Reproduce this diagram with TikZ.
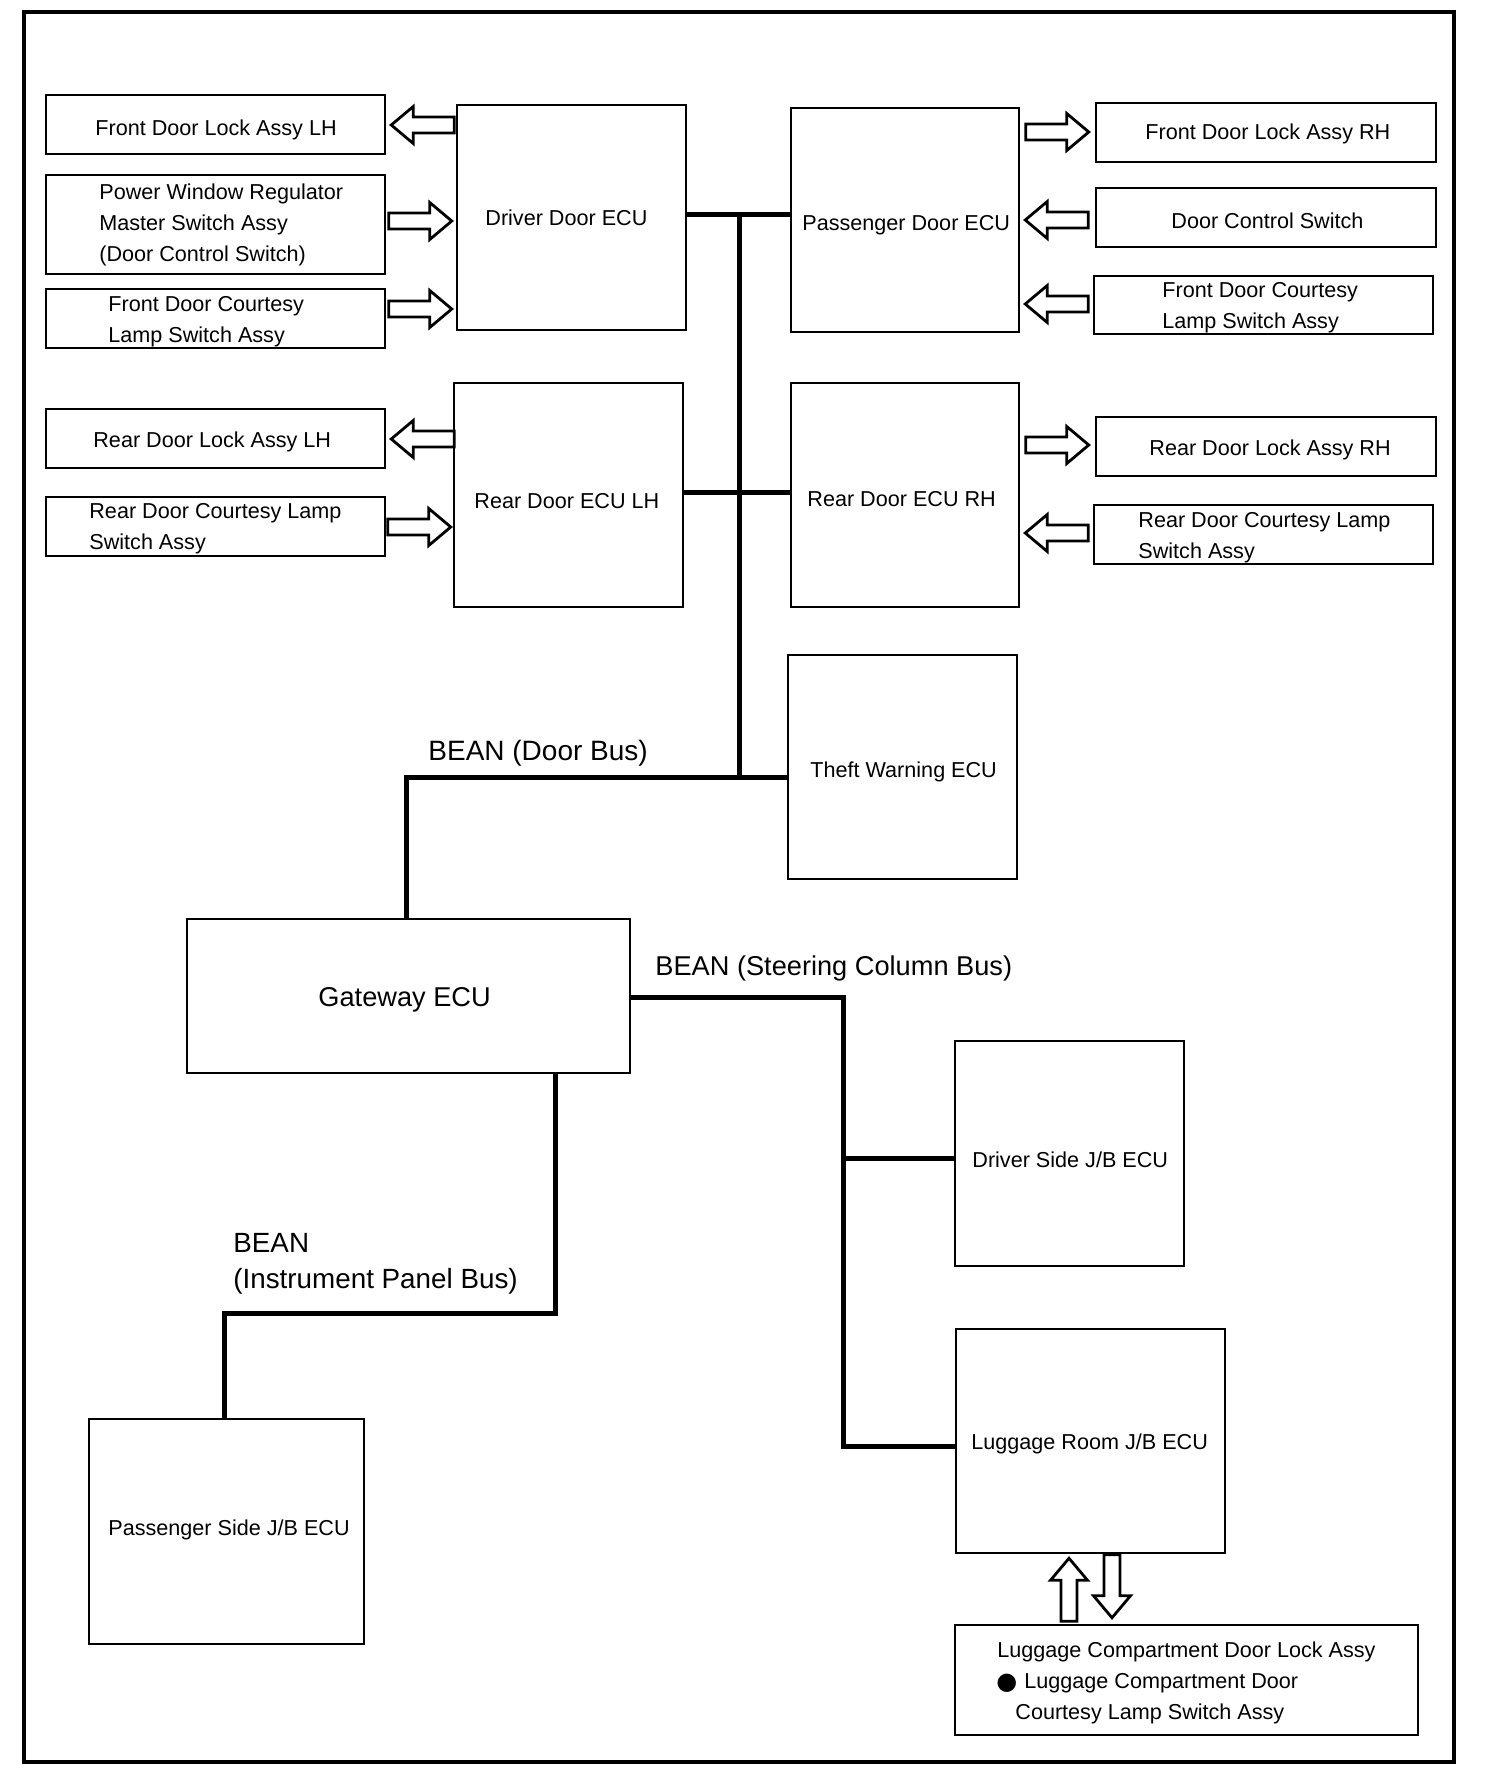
\documentclass[tikz,border=0pt]{standalone}
\usepackage{fontspec}
\setmainfont{Liberation Sans}
\newfontfamily\dejavu{DejaVu Sans}
\usetikzlibrary{fit,calc}
\begin{document}
\begin{tikzpicture}[x=0.5pt,y=-0.5pt,
  box/.style={draw, line width=1.25pt, inner sep=0pt},
  bus/.style={line width=2.5pt, line join=miter},
  txt/.style={inner sep=0pt, anchor=base west, font=\fontsize{10.8}{13}\selectfont},
  midtxt/.style={inner sep=0pt, anchor=base west, font=\fontsize{14}{16}\selectfont},
  bigtxt/.style={inner sep=0pt, anchor=base west, font=\fontsize{13.6}{16}\selectfont},
  barrow/.pic={\draw[line width=1.4pt, line join=miter, fill=white] (0,0) -- (-22,-18.5) -- (-22,-8) -- (-63,-8) -- (-63,8) -- (-22,8) -- (-22,18.5) -- cycle;}
]
\useasboundingbox (0,0) rectangle (1504,1782);
\node[draw, line width=1.7pt, inner sep=0pt, fit={(24,12) (1454,1762)}] (frame) {};

% boxes
\node[box, fit={(46,95) (385,154)}] (fdlL) {};
\node[box, fit={(46,175) (385,274)}] (pwL) {};
\node[box, fit={(46,289) (385,348)}] (fdcL) {};
\node[box, fit={(457,105) (686,330)}] (ddecu) {};
\node[box, fit={(791,108) (1019,332)}] (pdecu) {};
\node[box, fit={(1096,103) (1436,162)}] (fdlR) {};
\node[box, fit={(1096,188) (1436,247)}] (dcs) {};
\node[box, fit={(1094,276) (1433,334)}] (fdcR) {};
\node[box, fit={(46,409) (385,468)}] (rdlL) {};
\node[box, fit={(46,497) (385,556)}] (rdcL) {};
\node[box, fit={(454,383) (683,607)}] (rdecuL) {};
\node[box, fit={(791,383) (1019,607)}] (rdecuR) {};
\node[box, fit={(1096,417) (1436,476)}] (rdlR) {};
\node[box, fit={(1094,505) (1433,564)}] (rdcR) {};
\node[box, fit={(788,655) (1017,879)}] (theft) {};
\node[box, fit={(187,919) (630,1073)}] (gw) {};
\node[box, fit={(955,1041) (1184,1266)}] (dsjb) {};
\node[box, fit={(89,1419) (364,1644)}] (psjb) {};
\node[box, fit={(956,1329) (1225,1553)}] (lrjb) {};
\node[box, fit={(955,1625) (1418,1735)}] (lcd) {};

% texts
\node[txt] (t1) at (95,135) {Front Door Lock Assy LH};
\node[txt] (t2a) at (99,199) {Power Window Regulator};
\node[txt] (t2b) at (99,230) {Master Switch Assy};
\node[txt] (t2c) at (99,261) {(Door Control Switch)};
\node[txt] (t3a) at (108,311) {Front Door Courtesy};
\node[txt] (t3b) at (108,342) {Lamp Switch Assy};
\node[txt] (t4) at (485,225) {Driver Door ECU};
\node[txt] (t5) at (802,230) {Passenger Door ECU};
\node[txt] (t6) at (1145,140) {Front Door Lock Assy RH};
\node[txt] (t7) at (1171,228) {Door Control Switch};
\node[txt] (t8a) at (1162,297) {Front Door Courtesy};
\node[txt] (t8b) at (1162,328) {Lamp Switch Assy};
\node[txt] (t9) at (93,447) {Rear Door Lock Assy LH};
\node[txt] (t10a) at (89,518) {Rear Door Courtesy Lamp};
\node[txt] (t10b) at (89,549) {Switch Assy};
\node[txt] (t11) at (474,508) {Rear Door ECU LH};
\node[txt] (t12) at (807,506) {Rear Door ECU RH};
\node[txt] (t13) at (1149,455) {Rear Door Lock Assy RH};
\node[txt] (t14a) at (1138,527) {Rear Door Courtesy Lamp};
\node[txt] (t14b) at (1138,558) {Switch Assy};
\node[txt] (t15) at (810,777) {Theft Warning ECU};
\node[midtxt] (t16) at (428,760) {BEAN (Door Bus)};
\node[bigtxt] (t17) at (318,1006) {Gateway ECU};
\node[bigtxt] (t18) at (655,975) {BEAN (Steering Column Bus)};
\node[bigtxt, font=\fontsize{13.9}{16}\selectfont] (t19a) at (233,1252) {BEAN};
\node[bigtxt, font=\fontsize{13.9}{16}\selectfont] (t19b) at (233,1288) {(Instrument Panel Bus)};
\node[txt] (t20) at (972,1167) {Driver Side J/B ECU};
\node[txt] (t21) at (108,1535) {Passenger Side J/B ECU};
\node[txt] (t22) at (971,1449) {Luggage Room J/B ECU};
\node[txt] (t23a) at (997,1657) {Luggage Compartment Door Lock Assy};
\node[inner sep=0pt, anchor=base west, font=\dejavu\fontsize{12}{12}\selectfont] (bul) at (996,1689) {●};
\node[txt] (t23b) at (1024,1688) {Luggage Compartment Door};
\node[txt] (t23c) at (1015,1719) {Courtesy Lamp Switch Assy};

% bus lines
\coordinate (jA) at (739,214);
\coordinate (jB) at (739,777);
\coordinate (jR) at (739,492);
\coordinate (jC) at (406,777);
\draw[bus] (ddecu.east |- jA) -- (pdecu.west |- jA);
\draw[bus] (jA) -- (jB);
\draw[bus] (rdecuL.east |- jR) -- (rdecuR.west |- jR);
\draw[bus] (gw.north -| jC) -- (jC) -- (theft.west |- jC);

\coordinate (sA) at (843,997);
\coordinate (sB) at (843,1446);
\coordinate (sC) at (843,1158);
\draw[bus] (gw.east |- sA) -- (sA) -- (sB) -- (lrjb.west |- sB);
\draw[bus] (sC) -- (dsjb.west |- sC);

\coordinate (iA) at (555,1313);
\coordinate (iB) at (224,1313);
\draw[bus] (gw.south -| iA) -- (iA) -- (iB) -- (psjb.north -| iB);

% block arrows
\pic[rotate=180] at ($(fdlL.east |- 0,125)+(5,0)$) {barrow};
\pic at ($(ddecu.west |- 0,221)+(-4,0)$) {barrow};
\pic at ($(ddecu.west |- 0,309)+(-4,0)$) {barrow};
\pic at ($(fdlR.west |- 0,132)+(-6,0)$) {barrow};
\pic[rotate=180] at ($(pdecu.east |- 0,220)+(5,0)$) {barrow};
\pic[rotate=180] at ($(pdecu.east |- 0,304)+(5,0)$) {barrow};
\pic[rotate=180] at ($(rdlL.east |- 0,439)+(5,0)$) {barrow};
\pic at ($(rdecuL.west |- 0,527)+(-2,0)$) {barrow};
\pic at ($(rdlR.west |- 0,445)+(-6,0)$) {barrow};
\pic[rotate=180] at ($(rdecuR.east |- 0,533)+(5,0)$) {barrow};
\pic[rotate=90] at ($(lrjb.south -| 1069,0)+(0,4)$) {barrow};
\pic[rotate=-90] at ($(lcd.north -| 1112,0)+(0,-6)$) {barrow};
\end{tikzpicture}
\end{document}
